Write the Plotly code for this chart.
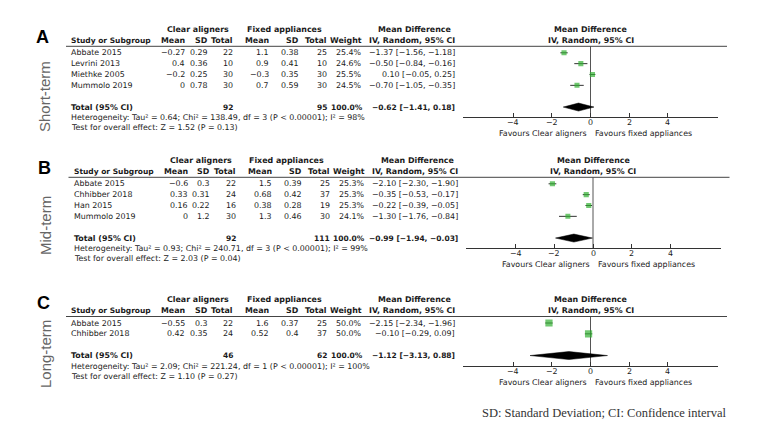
import plotly.graph_objects as go

W, H = 773, 436

# ---------------- data ----------------
A_studies = ["Abbate 2015", "Levrini 2013", "Miethke 2005", "Mummolo 2019"]
A_ca_mean = [-0.27, 0.4, -0.2, 0]
A_ca_sd = [0.29, 0.36, 0.25, 0.78]
A_ca_n = [22, 10, 30, 30]
A_fa_mean = [1.1, 0.9, -0.3, 0.7]
A_fa_sd = [0.38, 0.41, 0.35, 0.59]
A_fa_n = [25, 10, 30, 30]
A_weight = [25.4, 24.6, 25.5, 24.5]
A_md = [-1.37, -0.50, 0.10, -0.70]
A_lo = [-1.56, -0.84, -0.05, -1.05]
A_hi = [-1.18, -0.16, 0.25, -0.35]
A_total = dict(ca_n=92, fa_n=95, md=-0.62, lo=-1.41, hi=0.18)
A_het = "Heterogeneity: Tau² = 0.64; Chi² = 138.49, df = 3 (P < 0.00001); I² = 98%"
A_test = "Test for overall effect: Z = 1.52 (P = 0.13)"

B_studies = ["Abbate 2015", "Chhibber 2018", "Han 2015", "Mummolo 2019"]
B_ca_mean = [-0.6, 0.33, 0.16, 0]
B_ca_sd = [0.3, 0.31, 0.22, 1.2]
B_ca_n = [22, 24, 16, 30]
B_fa_mean = [1.5, 0.68, 0.38, 1.3]
B_fa_sd = [0.39, 0.42, 0.28, 0.46]
B_fa_n = [25, 37, 19, 30]
B_weight = [25.3, 25.3, 25.3, 24.1]
B_md = [-2.10, -0.35, -0.22, -1.30]
B_lo = [-2.30, -0.53, -0.39, -1.76]
B_hi = [-1.90, -0.17, -0.05, -0.84]
B_total = dict(ca_n=92, fa_n=111, md=-0.99, lo=-1.94, hi=-0.03)
B_het = "Heterogeneity: Tau² = 0.93; Chi² = 240.71, df = 3 (P < 0.00001); I² = 99%"
B_test = "Test for overall effect: Z = 2.03 (P = 0.04)"

C_studies = ["Abbate 2015", "Chhibber 2018"]
C_ca_mean = [-0.55, 0.42]
C_ca_sd = [0.3, 0.35]
C_ca_n = [22, 24]
C_fa_mean = [1.6, 0.52]
C_fa_sd = [0.37, 0.4]
C_fa_n = [25, 37]
C_weight = [50.0, 50.0]
C_md = [-2.15, -0.10]
C_lo = [-2.34, -0.29]
C_hi = [-1.96, 0.09]
C_total = dict(ca_n=46, fa_n=62, md=-1.12, lo=-3.13, hi=0.88)
C_het = "Heterogeneity: Tau² = 2.09; Chi² = 221.24, df = 1 (P < 0.00001); I² = 100%"
C_test = "Test for overall effect: Z = 1.10 (P = 0.27)"

panel_letters = ["A", "B", "C"]
panel_terms = ["Short-term", "Mid-term", "Long-term"]
x_ticks = [-4, -2, 0, 2, 4]
footnote = "SD: Standard Deviation; CI: Confidence interval"

# ---------------- layout constants ----------------
FONT = "DejaVu Sans"
FS = 7.9
FSB = 7.5
TXT = "#1a1a1a"
GREEN = "#33b033"


def px(x):
    return x / W


def py(y):
    return 1 - y / H


def mnum(v):
    return f"{v:g}".replace("-", "\u2212")


def ci_txt(m, l, h):
    return f"{m:.2f} [{l:.2f}, {h:.2f}]".replace("-", "\u2212")


panels = [
    dict(studies=A_studies, ca_mean=A_ca_mean, ca_sd=A_ca_sd, ca_n=A_ca_n, fa_mean=A_fa_mean,
         fa_sd=A_fa_sd, fa_n=A_fa_n, w=A_weight, md=A_md, lo=A_lo, hi=A_hi, tot=A_total,
         het=A_het, test=A_test, line=46.3, dx=0, letter=(42.5, 37), term=(45, 97)),
    dict(studies=B_studies, ca_mean=B_ca_mean, ca_sd=B_ca_sd, ca_n=B_ca_n, fa_mean=B_fa_mean,
         fa_sd=B_fa_sd, fa_n=B_fa_n, w=B_weight, md=B_md, lo=B_lo, hi=B_hi, tot=B_total,
         het=B_het, test=B_test, line=177.3, dx=2.5, letter=(44, 168), term=(45, 226)),
    dict(studies=C_studies, ca_mean=C_ca_mean, ca_sd=C_ca_sd, ca_n=C_ca_n, fa_mean=C_fa_mean,
         fa_sd=C_fa_sd, fa_n=C_fa_n, w=C_weight, md=C_md, lo=C_lo, hi=C_hi, tot=C_total,
         het=C_het, test=C_test, line=316.5, dx=0, letter=(43, 303), term=(45, 354)),
]

ROW_GAP = 10.85

fig = go.Figure()
ann = []
shapes = []
layout_axes = {}


def T(x, y, text, anchor="left", bold=False, size=FS, color=TXT, family=FONT, xref="paper", **kw):
    if bold:
        text = f"<b>{text}</b>"
    ann.append(dict(x=px(x) if xref == "paper" else x, y=py(y), xref=xref, yref="paper",
                    text=text, showarrow=False, xanchor=anchor, yanchor="middle", borderpad=0,
                    font=dict(family=family, size=size, color=color), **kw))


for i, p in enumerate(panels):
    dx = p["dx"]
    line_y = p["line"]
    h1 = line_y - 16.7
    h2 = line_y - 5.6
    row0 = line_y + 6.5
    n = len(p["studies"])
    rows = [row0 + k * ROW_GAP for k in range(n)]
    tot_y = rows[-1] + 2 * ROW_GAP
    het_y = tot_y + 10.5
    test_y = tot_y + 20.8
    axis_y = tot_y + 10.3
    fav_y = axis_y + 16.5

    # columns
    c_study = 70 + dx
    c_cam, c_cas, c_can = 186 + dx, 209 + dx, 234 + dx
    c_fam, c_fas, c_fan = 270 + dx, 300 + dx, 328 + dx
    c_w, c_ci = 363 + dx, 456 + dx

    # letter & term
    T(p["letter"][0], p["letter"][1], panel_letters[i], anchor="center", bold=True, size=18,
      color="#000", family="Liberation Sans")
    T(p["term"][0], p["term"][1], panel_terms[i], anchor="center", size=15, color="#666",
      family="Liberation Sans", textangle=-90)

    # headers
    T(198 + dx, h1, "Clear aligners", anchor="center", bold=True)
    T(284 + dx, h1, "Fixed appliances", anchor="center", bold=True)
    T(414.5 + dx, h1, "Mean Difference", anchor="center", bold=True)
    T(c_study, h2, "Study or Subgroup", bold=True, size=FSB)
    for cx, lab in [(c_cam, "Mean"), (c_cas, "SD"), (c_can, "Total"), (c_fam, "Mean"),
                    (c_fas, "SD"), (c_fan, "Total"), (c_w, "Weight"), (c_ci, "IV, Random, 95% CI")]:
        T(cx, h2, lab, anchor="right", bold=True)

    # rows
    for k in range(n):
        y = rows[k]
        T(c_study, y, p["studies"][k])
        T(c_cam, y, mnum(p["ca_mean"][k]), anchor="right")
        T(c_cas, y, mnum(p["ca_sd"][k]), anchor="right")
        T(c_can, y, str(p["ca_n"][k]), anchor="right")
        T(c_fam, y, mnum(p["fa_mean"][k]), anchor="right")
        T(c_fas, y, mnum(p["fa_sd"][k]), anchor="right")
        T(c_fan, y, str(p["fa_n"][k]), anchor="right")
        T(c_w, y, f"{p['w'][k]:.1f}%", anchor="right")
        T(c_ci, y, ci_txt(p["md"][k], p["lo"][k], p["hi"][k]), anchor="right")

    tot = p["tot"]
    T(c_study, tot_y, "Total (95% CI)", bold=True)
    T(c_can, tot_y, str(tot["ca_n"]), anchor="right", bold=True, size=FSB)
    T(c_fan, tot_y, str(tot["fa_n"]), anchor="right", bold=True, size=FSB)
    T(c_w + 0.5, tot_y, "100.0%", anchor="right", bold=True, size=FSB)
    T(c_ci, tot_y, ci_txt(tot["md"], tot["lo"], tot["hi"]), anchor="right", bold=True, size=FSB)
    T(c_study, het_y, p["het"])
    T(c_study, test_y, p["test"])

    # header line
    shapes.append(dict(type="line", xref="paper", yref="paper", x0=px(66 + dx), x1=px(727 + dx),
                       y0=py(line_y), y1=py(line_y), line=dict(color="#444", width=1)))

    # forest axes
    sfx = "" if i == 0 else str(i + 1)
    xa, ya = "x" + sfx, "y" + sfx
    x0p, x1p = 463 + dx, 718 + dx
    layout_axes["xaxis" + sfx] = dict(
        domain=[px(x0p), px(x1p)], range=[-6.6, 6.6], anchor=ya, tickvals=x_ticks,
        ticks="inside", ticklen=4, tickcolor="#333", showline=True, linecolor="#333",
        linewidth=1, showgrid=False, zeroline=False, showticklabels=False, fixedrange=True)
    layout_axes["yaxis" + sfx] = dict(
        domain=[py(axis_y), py(line_y)], range=[axis_y, line_y], anchor=xa, visible=False,
        showgrid=False, zeroline=False, fixedrange=True)

    # tick labels placed on the data axis
    for t in x_ticks:
        T(t, axis_y + 5.6, mnum(t), anchor="center", xref=xa)

    zero_px = (x0p + x1p) / 2
    T(zero_px - 2.5, fav_y, "Favours Clear aligners", anchor="right")
    T(zero_px + 3.5, fav_y, "Favours fixed appliances", anchor="left")
    T(zero_px, h1, "Mean Difference", anchor="center", bold=True)
    T(zero_px, h2, "IV, Random, 95% CI", anchor="center", bold=True)

    shapes.append(dict(type="line", xref=xa, yref=ya + " domain", x0=0, x1=0, y0=0, y1=1,
                       line=dict(color="#555", width=1), layer="below"))

    # CIs and squares
    fig.add_trace(go.Scatter(
        x=p["md"], y=rows, mode="markers", xaxis=xa, yaxis=ya,
        marker=dict(symbol="square", color=GREEN, size=[1.02 * (w ** 0.5) for w in p["w"]],
                    line=dict(width=0)),
        error_x=dict(type="data", symmetric=False,
                     array=[h - m for h, m in zip(p["hi"], p["md"])],
                     arrayminus=[m - l for m, l in zip(p["md"], p["lo"])],
                     width=0, thickness=1, color="#333"),
        showlegend=False, hoverinfo="skip"))

    # diamond
    dh = 4.0
    fig.add_trace(go.Scatter(
        x=[tot["lo"], tot["md"], tot["hi"], tot["md"], tot["lo"]],
        y=[tot_y, tot_y - dh, tot_y, tot_y + dh, tot_y],
        mode="lines", fill="toself", fillcolor="#000", line=dict(color="#000", width=0.5),
        xaxis=xa, yaxis=ya, showlegend=False, hoverinfo="skip"))

T(604, 412.7, footnote, anchor="center", size=12.5, color="#333", family="Liberation Serif")

fig.update_layout(
    width=W, height=H, margin=dict(l=0, r=0, t=0, b=0),
    paper_bgcolor="white", plot_bgcolor="rgba(0,0,0,0)",
    annotations=ann, shapes=shapes, showlegend=False, **layout_axes)

fig.write_html("out.html", config={"displayModeBar": False},
               post_script="document.body.style.margin='0';")
